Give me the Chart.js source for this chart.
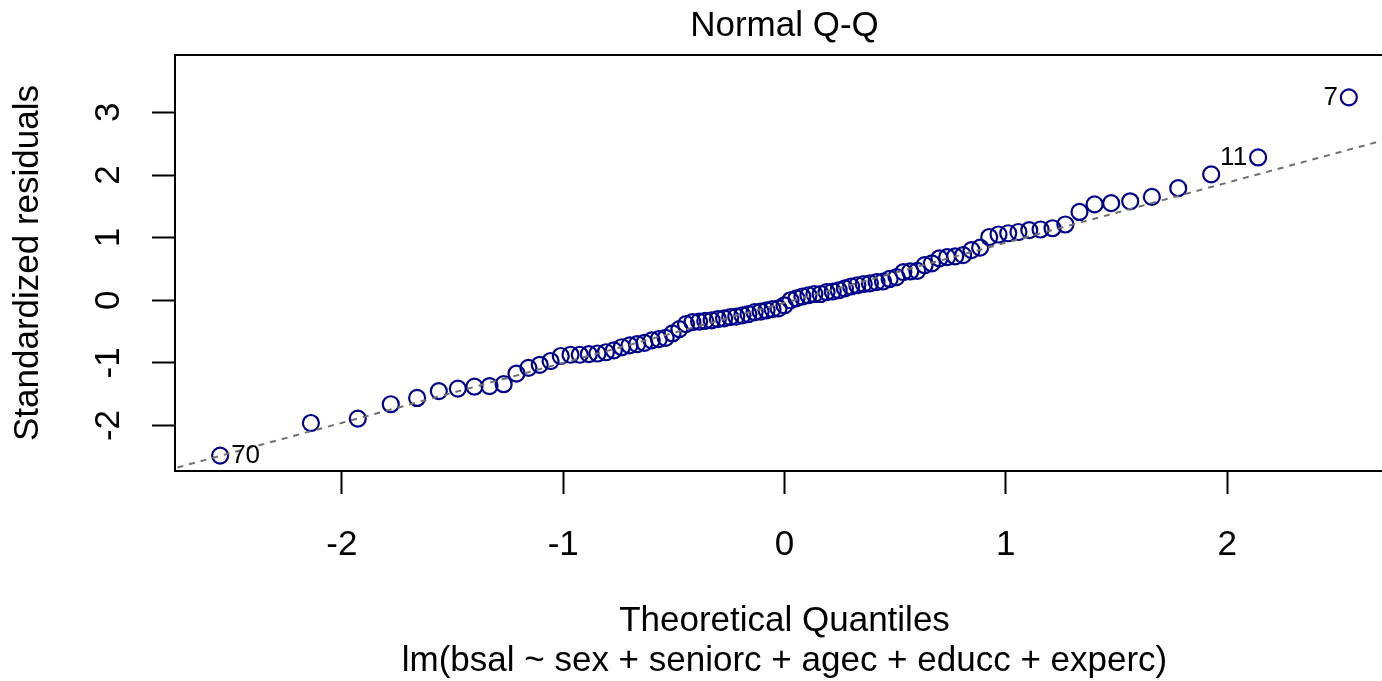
<!DOCTYPE html>
<html>
<head>
<meta charset="utf-8">
<script src="https://cdn.jsdelivr.net/npm/chart.js@4/dist/chart.umd.min.js"></script>
<style>
  html, body { margin: 0; padding: 0; overflow: hidden; background: #fff; }
  canvas { display: block; }
</style>
</head>
<body>
<canvas id="qq" width="1394" height="681"></canvas>
<script>
// theoretical normal quantiles for the 93 residuals
var theoQuantiles = [
  -2.550, -2.140, -1.928, -1.779, -1.660, -1.562, -1.476, -1.401, -1.333, -1.269,
  -1.211, -1.157, -1.106, -1.057, -1.011, -0.967, -0.925, -0.884, -0.845, -0.807,
  -0.771, -0.735, -0.700, -0.666, -0.633, -0.600, -0.568, -0.537, -0.506, -0.475,
  -0.445, -0.416, -0.386, -0.358, -0.329, -0.301, -0.273, -0.245, -0.218, -0.190,
  -0.163, -0.135, -0.108, -0.081, -0.054, -0.027, 0.000,
  0.027, 0.054, 0.081, 0.108, 0.135, 0.163, 0.190, 0.218, 0.245, 0.273,
  0.301, 0.329, 0.358, 0.386, 0.416, 0.445, 0.475, 0.506, 0.537, 0.568,
  0.600, 0.633, 0.666, 0.700, 0.735, 0.771, 0.807, 0.845, 0.884, 0.925,
  0.967, 1.011, 1.057, 1.106, 1.157, 1.211, 1.269, 1.333, 1.401, 1.476,
  1.562, 1.660, 1.779, 1.928, 2.140, 2.550
];

// sorted standardized residuals
var stdResiduals = [
  -2.48, -1.96, -1.89, -1.66, -1.56, -1.45, -1.41, -1.38, -1.37, -1.34,
  -1.17, -1.08, -1.03, -0.97, -0.89, -0.87, -0.87, -0.86, -0.85, -0.83,
  -0.80, -0.75, -0.72, -0.70, -0.68, -0.64, -0.62, -0.60, -0.53, -0.46,
  -0.38, -0.35, -0.34, -0.33, -0.32, -0.30, -0.29, -0.27, -0.26, -0.24,
  -0.22, -0.19, -0.18, -0.16, -0.14, -0.13, -0.08,
  0.00, 0.03, 0.06, 0.08, 0.10, 0.10, 0.13, 0.14, 0.16, 0.19,
  0.22, 0.24, 0.26, 0.27, 0.29, 0.30, 0.34, 0.37, 0.45, 0.46,
  0.47, 0.56, 0.59, 0.67, 0.69, 0.70, 0.72, 0.80, 0.84, 1.01,
  1.05, 1.07, 1.09, 1.12, 1.13, 1.15, 1.21, 1.41, 1.53, 1.55,
  1.58, 1.65, 1.79, 2.01, 2.28, 3.24
];

// reference line (qqline) end points
var refLineX = [-2.9, 2.9];
var refLineY = [-2.82, 2.74];

// labelled observations
var pointIds = [0, 91, 92];
var pointLabels = ['70', '11', '7'];

var xTickValues = [-2, -1, 0, 1, 2];
var yTickValues = [-2, -1, 0, 1, 2, 3];

var FONT = '"Liberation Sans", Arial, Helvetica, sans-serif';
Chart.defaults.font.family = FONT;
Chart.defaults.color = '#000';

var points = theoQuantiles.map(function (q, i) {
    return {x: q, y: stdResiduals[i]};
});
var refLine = refLineX.map(function (v, i) {
    return {x: v, y: refLineY[i]};
});

// box around the plot region (right side falls outside the picture) + observation labels
var frameAndLabels = {
    id: 'frameAndLabels',
    afterDatasetsDraw: function (chart) {
        var ctx = chart.ctx;
        var area = chart.chartArea;
        ctx.save();
        ctx.strokeStyle = '#000';
        ctx.lineWidth = 2;
        ctx.strokeRect(area.left, area.top, area.right - area.left, area.bottom - area.top);

        var meta = chart.getDatasetMeta(0);
        var mid = (area.left + area.right) / 2;
        ctx.font = '26px ' + FONT;
        ctx.fillStyle = '#000';
        ctx.textBaseline = 'middle';
        pointIds.forEach(function (idx, k) {
            var el = meta.data[idx];
            var toRight = el.x < mid;
            ctx.textAlign = toRight ? 'left' : 'right';
            ctx.fillText(pointLabels[k], el.x + (toRight ? 11 : -11), el.y);
        });
        ctx.restore();
    }
};

new Chart(document.getElementById('qq').getContext('2d'), {
    type: 'scatter',
    data: {
        datasets: [{
            label: 'residuals',
            data: points,
            showLine: false,
            pointStyle: 'circle',
            pointRadius: 8,
            pointBorderWidth: 2.2,
            borderColor: '#00008B',
            backgroundColor: 'rgba(0,0,0,0)',
            order: 2
        }, {
            type: 'line',
            label: 'qqline',
            data: refLine,
            borderColor: '#707070',
            borderWidth: 2,
            borderDash: [6, 6],
            pointRadius: 0,
            fill: false,
            order: 1
        }]
    },
    options: {
        responsive: false,
        animation: false,
        layout: {padding: 0, autoPadding: false},
        plugins: {
            legend: {display: false},
            tooltip: {enabled: false},
            title: {
                display: true,
                fullSize: false,
                text: 'Normal Q-Q',
                font: {size: 35, weight: 'normal', lineHeight: 1.2},
                color: '#000',
                padding: {top: 5, bottom: 8}
            }
        },
        scales: {
            x: {
                type: 'linear',
                min: -2.754,
                max: 2.754,
                afterBuildTicks: function (scale) {
                    scale.ticks = xTickValues.map(function (v) { return {value: v}; });
                },
                afterFit: function (scale) {
                    scale.height = 210;
                    scale.paddingLeft = 0;
                    scale.paddingRight = 0;
                },
                border: {display: false},
                grid: {
                    drawOnChartArea: false,
                    drawTicks: true,
                    tickLength: 23,
                    tickWidth: 2,
                    tickColor: '#000'
                },
                ticks: {
                    font: {size: 35},
                    padding: 30,
                    maxRotation: 0,
                    callback: function (v) { return String(v); }
                },
                title: {
                    display: true,
                    text: ['Theoretical Quantiles', 'lm(bsal ~ sex + seniorc + agec + educc + experc)'],
                    font: {size: 35, lineHeight: 1.143},
                    padding: {top: 0, bottom: 0}
                }
            },
            y: {
                type: 'linear',
                min: -2.726,
                max: 3.916,
                afterBuildTicks: function (scale) {
                    scale.ticks = yTickValues.map(function (v) { return {value: v}; });
                },
                afterFit: function (scale) {
                    scale.width = 175;
                    scale.paddingTop = 0;
                    scale.paddingBottom = 0;
                },
                border: {display: false},
                grid: {
                    drawOnChartArea: false,
                    drawTicks: true,
                    tickLength: 23,
                    tickWidth: 2,
                    tickColor: '#000'
                },
                ticks: {
                    font: {size: 35},
                    padding: 27,
                    minRotation: 90,
                    maxRotation: 90,
                    crossAlign: 'center',
                    callback: function (v) { return String(v); }
                },
                title: {
                    display: true,
                    text: 'Standardized residuals',
                    font: {size: 35, lineHeight: 1.143},
                    padding: {top: 8, bottom: 0}
                }
            }
        }
    },
    plugins: [frameAndLabels]
});
</script>
</body>
</html>
